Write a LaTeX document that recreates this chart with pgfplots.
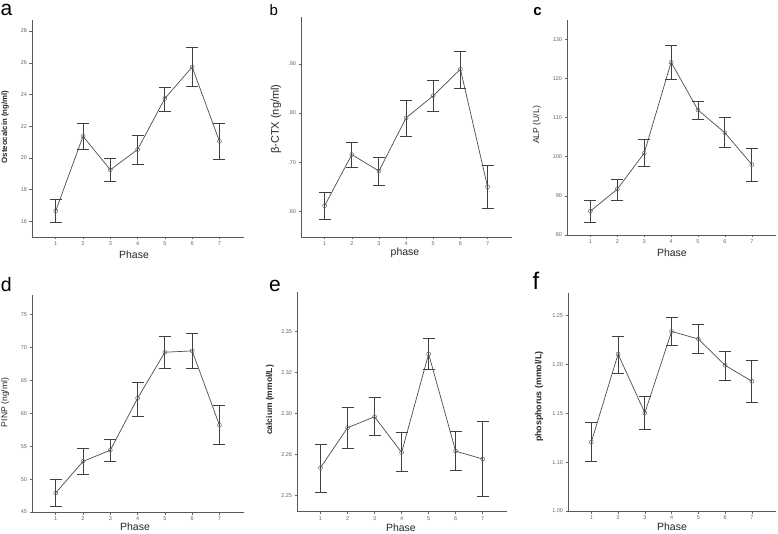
\documentclass[border=0pt]{standalone}
\usepackage{pgfplots}
\pgfplotsset{compat=1.18}
\usepackage{pgfplotstable}
\usepackage{fontspec}
\setmainfont{Liberation Sans}

\pgfplotstableread{
x y ep em
1 16.65 0.74 0.75
2 21.36 0.82 0.84
3 19.24 0.73 0.76
4 20.52 0.92 0.93
5 23.75 0.70 0.82
6 25.73 1.24 1.20
7 21.04 1.16 1.15
}\dataA
\pgfplotstableread{
x y ep em
1 0.6115 0.0265 0.027
2 0.7155 0.0255 0.0265
3 0.682 0.027 0.029
4 0.790 0.035 0.038
5 0.835 0.031 0.032
6 0.889 0.037 0.039
7 0.650 0.043 0.044
}\dataB
\pgfplotstableread{
x y ep em
1 86.1 2.8 2.8
2 91.7 2.5 2.8
3 100.9 3.4 3.4
4 124.1 4.4 4.3
5 111.9 2.3 2.4
6 106.1 3.8 3.7
7 98.0 4.2 4.4
}\dataC
\pgfplotstableread{
x y ep em
1 47.9 2.07 2.1
2 52.7 1.9 2.0
3 54.4 1.6 1.7
4 62.3 2.4 2.8
5 69.3 2.4 2.5
6 69.5 2.7 2.7
7 58.2 3.0 2.95
}\dataD
\pgfplotstableread{
x y ep em
1 2.2669 0.0144 0.0151
2 2.2913 0.0124 0.0128
3 2.2980 0.0116 0.0114
4 2.2762 0.0120 0.0116
5 2.3364 0.0097 0.0096
6 2.2770 0.0122 0.0120
7 2.2722 0.0227 0.0230
}\dataE
\pgfplotstableread{
x y ep em
1 1.1204 0.0201 0.0201
2 1.2105 0.0184 0.0193
3 1.1503 0.0164 0.0173
4 1.2337 0.0139 0.0147
5 1.2259 0.0149 0.0150
6 1.1990 0.0146 0.0157
7 1.1827 0.0210 0.0218
}\dataF

\pgfplotsset{
  panel/.style={
    scale only axis, anchor=south west, clip=false,
    axis lines=left,
    axis line style={-, color=black!65, line width=0.8pt},
    xmin=0.13, xmax=7.9,
    xtick={1,...,7},
    tick align=outside,
    major tick length=2.5pt,
    tick style={color=black!60, line width=0.5pt},
    tick label style={font=\fontsize{5.5}{6.5}\selectfont, text=black!60},
    /pgf/number format/assume math mode=true,
    xticklabel style={yshift=1pt},
    yticklabel style={xshift=1pt},
    xlabel style={anchor=center, font=\fontsize{10.5}{12}\selectfont, text=black!85},
    ylabel style={anchor=center, text=black!85},
  },
  ser/.style={
    color=black!70, line width=0.7pt,
    mark=o, mark size=2pt, mark options={black!60, line width=0.5pt, solid},
    error bars/.cd, y dir=both, y explicit,
    error bar style={line width=0.9pt, color=black!75},
    error mark options={rotate=90, mark size=6pt, line width=0.9pt, black!75},
  },
}

\begin{document}
\begin{tikzpicture}
\useasboundingbox (0,0) rectangle (778pt,533pt);

% a
\begin{axis}[panel, at={(32pt,296pt)}, width=212pt, height=217pt,
  ymin=15, ymax=28.7, ytick={16,18,...,28},
  xlabel={Phase}, xlabel style={at={(axis description cs:0.481,-0.083)}},
  ylabel={\textbf{Osteocalcin (ng/ml)}}, ylabel style={at={(axis description cs:-0.127,0.507)}, font=\fontsize{7.8}{9}\selectfont}]
\addplot[ser] table[x=x, y=y, y error plus=ep, y error minus=em] {\dataA};
\end{axis}

% b
\begin{axis}[panel, at={(301pt,296pt)}, width=211pt, height=220pt,
  ymin=0.548, ymax=0.995, ytick={0.6,0.7,0.8,0.9}, yticklabels={.60,.70,.80,.90},
  xlabel={phase}, xlabel style={at={(axis description cs:0.493,-0.073)}},
  ylabel={β-CTX (ng/ml)}, ylabel style={at={(axis description cs:-0.118,0.536)}, font=\fontsize{11}{12}\selectfont}]
\addplot[ser] table[x=x, y=y, y error plus=ep, y error minus=em] {\dataB};
\end{axis}

% c
\begin{axis}[panel, at={(567pt,298pt)}, width=209pt, height=215pt,
  ymin=80, ymax=134.9, ytick={80,90,...,130},
  xlabel={Phase}, xlabel style={at={(axis description cs:0.502,-0.084)}},
  ylabel={ALP (U/L)}, ylabel style={at={(axis description cs:-0.144,0.512)}, font=\fontsize{8.6}{10}\selectfont}]
\addplot[ser] table[x=x, y=y, y error plus=ep, y error minus=em] {\dataC};
\end{axis}

% d
\begin{axis}[panel, at={(32pt,21pt)}, width=212pt, height=217pt,
  ymin=45, ymax=78, ytick={45,50,...,75},
  xlabel={Phase}, xlabel style={at={(axis description cs:0.486,-0.068)}},
  ylabel={PINP (ng/ml)}, ylabel style={at={(axis description cs:-0.127,0.505)}, font=\fontsize{8.6}{10}\selectfont}]
\addplot[ser] table[x=x, y=y, y error plus=ep, y error minus=em] {\dataD};
\end{axis}

% e
\begin{axis}[panel, at={(297pt,21.3pt)}, width=210pt, height=220pt,
  ymin=2.24, ymax=2.3744, ytick={2.25,2.275,2.30,2.325,2.35}, yticklabels={2.25,2.28,2.30,2.32,2.35},
  xlabel={Phase}, xlabel style={at={(axis description cs:0.495,-0.071)}},
  ylabel={\textbf{calcium (mmol/L)}}, ylabel style={at={(axis description cs:-0.129,0.508)}, font=\fontsize{8.5}{10}\selectfont}]
\addplot[ser] table[x=x, y=y, y error plus=ep, y error minus=em] {\dataE};
\end{axis}

% f
\begin{axis}[panel, at={(568pt,22pt)}, width=208pt, height=218pt,
  ymin=1.05, ymax=1.273, ytick={1.05,1.10,1.15,1.20,1.25}, yticklabels={1.00,1.10,1.15,1.20,1.25},
  xlabel={Phase}, xlabel style={at={(axis description cs:0.5,-0.072)}},
  ylabel={\textbf{phosphorus (mmol/L)}}, ylabel style={at={(axis description cs:-0.139,0.524)}, font=\fontsize{8.8}{10}\selectfont}]
\addplot[ser] table[x=x, y=y, y error plus=ep, y error minus=em] {\dataF};
\end{axis}

% panel letters
\node[font=\fontsize{21}{24}\selectfont] at (6.5pt,523.5pt) {a};
\node[font=\fontsize{15}{18}\selectfont] at (273.8pt,522.5pt) {b};
\node[font=\fontsize{15}{18}\selectfont\bfseries] at (537.5pt,521pt) {c};
\node[font=\fontsize{19.5}{22}\selectfont] at (6.3pt,248.3pt) {d};
\node[font=\fontsize{21}{24}\selectfont] at (275pt,247.5pt) {e};
\node[font=\fontsize{24}{28}\selectfont] at (536pt,252pt) {f};
\end{tikzpicture}
\end{document}
